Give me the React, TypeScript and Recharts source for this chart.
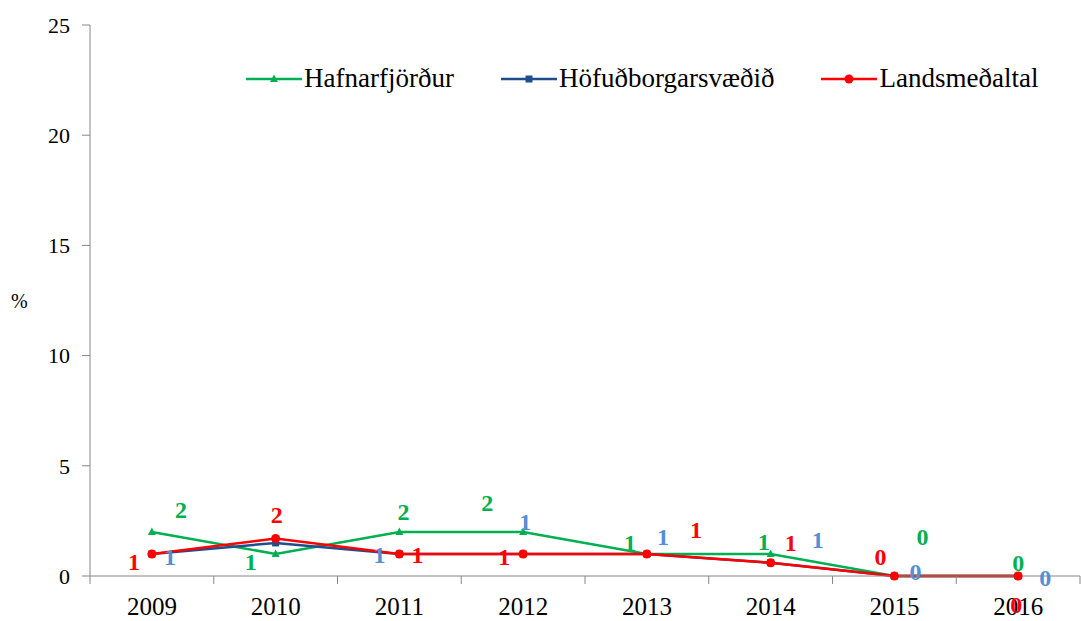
import { LineChart, Line, XAxis, YAxis, Legend, LabelList } from 'recharts';

const years = ['2009', '2010', '2011', '2012', '2013', '2014', '2015', '2016'];
const hafnarfjordur = [2, 1, 2, 2, 1, 1, 0, 0];
const hofudborgarsvaedid = [1, 1.5, 1, 1, 1, 0.6, 0, 0];
const landsmedaltal = [1, 1.7, 1, 1, 1, 0.6, 0, 0];
const yTicks = [0, 5, 10, 15, 20, 25];

// where each value label sits relative to its point (dx, dy); null = not shown
const greenLabelOffsets = [[29, -22], [-25, 8], [4, -20], [-36, -29], [-17, -11], [-7, -12], [28, -39], [0, -13]];
const blueLabelOffsets = [[18, 3], null, [-20, 1], [2, -32], [16, -17], [47, -23], [21, -4], [27, 2]];
const redLabelOffsets = [[-18, 8], [1, -24], [18, 1], [-19, 3], [49, -24], [20, -20], [-14, -19], [-2, 29]];

const FONT = "'Liberation Serif', Tinos, 'Times New Roman', 'DejaVu Serif', serif";
const WIDTH = 1081;
const HEIGHT = 621;
const Y_AXIS_W = 90;
const PLOT_W = WIDTH - Y_AXIS_W - 1;
const BAND = PLOT_W / years.length;

const GREEN = '#00B050';
const NAVY = '#1F4E8C';
const LIGHT_BLUE = '#558ED5';
const RED = '#FF0000';
const AXIS = '#868686';

const data = years.map((year, i) => ({
  year,
  hafnarfjordur: hafnarfjordur[i],
  hofudborgarsvaedid: hofudborgarsvaedid[i],
  landsmedaltal: landsmedaltal[i],
}));

function Marker({ shape, cx, cy, color }: { shape: string; cx: number; cy: number; color: string }) {
  if (shape === 'triangle') {
    return <polygon points={`${cx},${cy - 4.5} ${cx - 4},${cy + 3} ${cx + 4},${cy + 3}`} fill={color} />;
  }
  if (shape === 'square') {
    return <rect x={cx - 3.5} y={cy - 3.5} width={7} height={7} fill={color} />;
  }
  return <circle cx={cx} cy={cy} r={4.5} fill={color} />;
}

const makeDot = (shape: string, color: string) => (props: any) => {
  const { cx, cy, index } = props;
  if (cx == null || cy == null) return <g key={index} />;
  return <Marker key={index} shape={shape} cx={cx} cy={cy} color={color} />;
};

const makeLabel = (offsets: (number[] | null)[], color: string) => (props: any) => {
  const { index, value } = props;
  const off = offsets[index];
  const x = props.x ?? props.viewBox?.x;
  const y = props.y ?? props.viewBox?.y;
  if (!off || x == null || y == null) return null;
  return (
    <text
      key={index}
      x={x + off[0]}
      y={y + off[1]}
      textAnchor="middle"
      dominantBaseline="central"
      fontFamily={FONT}
      fontWeight="bold"
      fontSize={24}
      fill={color}
    >
      {Math.round(Number(value))}
    </text>
  );
};

function XTick(props: any) {
  const { x, y, payload, index } = props;
  const last = index === years.length - 1;
  return (
    <g>
      <line x1={x - BAND / 2} x2={x - BAND / 2} y1={y - 8} y2={y} stroke={AXIS} />
      {last && <line x1={x + BAND / 2} x2={x + BAND / 2} y1={y - 8} y2={y} stroke={AXIS} />}
      <text x={x} y={y + 31} textAnchor="middle" fontFamily={FONT} fontSize={25} fill="#000">
        {payload.value}
      </text>
    </g>
  );
}

const legendItems = [
  { name: 'Hafnarfjörður', color: GREEN, shape: 'triangle' },
  { name: 'Höfuðborgarsvæðið', color: NAVY, shape: 'square' },
  { name: 'Landsmeðaltal', color: RED, shape: 'circle' },
];

function LegendContent() {
  return (
    <div style={{ display: 'flex', alignItems: 'center', fontFamily: FONT, fontSize: 27, whiteSpace: 'nowrap' }}>
      {legendItems.map((item) => (
        <div key={item.name} style={{ display: 'flex', alignItems: 'center', marginRight: 47 }}>
          <svg width={56} height={12} style={{ marginRight: 2 }}>
            <line x1={0} x2={56} y1={6} y2={6} stroke={item.color} strokeWidth={2.5} />
            <Marker shape={item.shape} cx={28} cy={6} color={item.color} />
          </svg>
          <span>{item.name}</span>
        </div>
      ))}
    </div>
  );
}

export default function App() {
  return (
    <div style={{ position: 'absolute', left: 0, top: 0, background: '#fff' }}>
      <LineChart width={WIDTH} height={HEIGHT} data={data} margin={{ top: 25, right: 1, bottom: 0, left: 0 }}>
        <XAxis
          dataKey="year"
          height={45}
          padding={{ left: BAND / 2, right: BAND / 2 }}
          axisLine={{ stroke: AXIS }}
          tickLine={false}
          tickSize={8}
          tickMargin={0}
          tick={<XTick />}
          interval={0}
        />
        <YAxis
          width={Y_AXIS_W}
          domain={[0, 25]}
          ticks={yTicks}
          axisLine={{ stroke: AXIS }}
          tickLine={{ stroke: AXIS }}
          tickSize={8}
          tickMargin={12}
          tick={{ fontFamily: FONT, fontSize: 22, fill: '#000' }}
          label={{ value: '%', position: 'insideLeft', offset: 11, style: { fontFamily: FONT, fontSize: 20, fill: '#000' } }}
        />
        <Legend
          layout="horizontal"
          verticalAlign="middle"
          align="center"
          content={<LegendContent />}
          wrapperStyle={{ top: 63, left: 246, width: 'auto' }}
        />
        <Line
          dataKey="hafnarfjordur"
          name="Hafnarfjörður"
          stroke={GREEN}
          strokeWidth={2.5}
          dot={makeDot('triangle', GREEN)}
          activeDot={false}
          isAnimationActive={false}
        >
          <LabelList dataKey="hafnarfjordur" content={makeLabel(greenLabelOffsets, GREEN)} />
        </Line>
        <Line
          dataKey="hofudborgarsvaedid"
          name="Höfuðborgarsvæðið"
          stroke={NAVY}
          strokeWidth={2.5}
          dot={makeDot('square', NAVY)}
          activeDot={false}
          isAnimationActive={false}
        >
          <LabelList dataKey="hofudborgarsvaedid" content={makeLabel(blueLabelOffsets, LIGHT_BLUE)} />
        </Line>
        <Line
          dataKey="landsmedaltal"
          name="Landsmeðaltal"
          stroke={RED}
          strokeWidth={2.5}
          dot={makeDot('circle', RED)}
          activeDot={false}
          isAnimationActive={false}
        >
          <LabelList dataKey="landsmedaltal" content={makeLabel(redLabelOffsets, RED)} />
        </Line>
      </LineChart>
    </div>
  );
}
